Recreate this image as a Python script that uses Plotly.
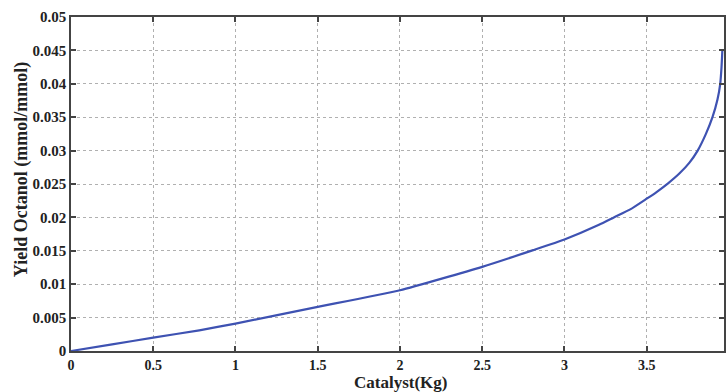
import plotly.graph_objects as go

catalyst = [0, 0.25, 0.5, 0.78, 1.0, 1.5, 2.0, 2.5, 2.81, 3.0, 3.21, 3.3, 3.4, 3.5, 3.56, 3.63, 3.7, 3.76, 3.81, 3.86, 3.9, 3.93, 3.947, 3.955, 3.96]
yield_oct = [0, 0.001, 0.002, 0.0031, 0.0041, 0.0066, 0.0091, 0.0126, 0.0151, 0.0167, 0.0189, 0.0200, 0.0212, 0.0228, 0.0238, 0.0251, 0.0266, 0.0282, 0.0300, 0.0325, 0.0350, 0.0376, 0.0400, 0.0425, 0.0450]

x_ticks = [0, 0.5, 1, 1.5, 2, 2.5, 3, 3.5]
x_labels = ["0", "0.5", "1", "1.5", "2", "2.5", "3", "3.5"]
y_ticks = [0, 0.005, 0.01, 0.015, 0.02, 0.025, 0.03, 0.035, 0.04, 0.045, 0.05]
y_labels = ["0", "0.005", "0.01", "0.015", "0.02", "0.025", "0.03", "0.035", "0.04", "0.045", "0.05"]

fig = go.Figure()
fig.add_trace(go.Scatter(x=catalyst, y=yield_oct, mode="lines",
                         line=dict(color="rgb(62,82,178)", width=2.2, shape="spline", smoothing=0.5),
                         showlegend=False))

font_fam = "Liberation Serif"
axis_common = dict(
    showline=True, linecolor="#444", linewidth=1.5, mirror="ticks",
    ticks="inside", ticklen=5, tickcolor="#444", tickwidth=1.5,
    showgrid=True, gridcolor="#b0b0b0", griddash="dot", gridwidth=1,
    zeroline=False,
)

fig.update_layout(
    width=726, height=392,
    margin=dict(l=71, r=0, t=17, b=41),
    paper_bgcolor="white", plot_bgcolor="white",
    xaxis=dict(range=[0, 3.97], tickvals=x_ticks, ticktext=x_labels,
               tickfont=dict(family=font_fam, size=14, color="#222", weight="bold"),
               **axis_common),
    yaxis=dict(range=[0, 0.05], tickvals=y_ticks, ticktext=y_labels,
               tickfont=dict(family=font_fam, size=15, color="#222", weight="bold"),
               **axis_common),
    annotations=[
        dict(text="Yield Octanol (mmol/mmol)", textangle=-90,
             xref="paper", yref="paper", x=-0.0748, y=0.542,
             xanchor="center", yanchor="middle", showarrow=False,
             font=dict(family=font_fam, size=18, color="#222", weight="bold")),
        dict(text="Catalyst(Kg)",
             xref="paper", yref="paper", x=0.504, y=-0.0958,
             xanchor="center", yanchor="middle", showarrow=False,
             font=dict(family=font_fam, size=17, color="#222", weight="bold")),
    ],
)

fig.write_html("out.html")
